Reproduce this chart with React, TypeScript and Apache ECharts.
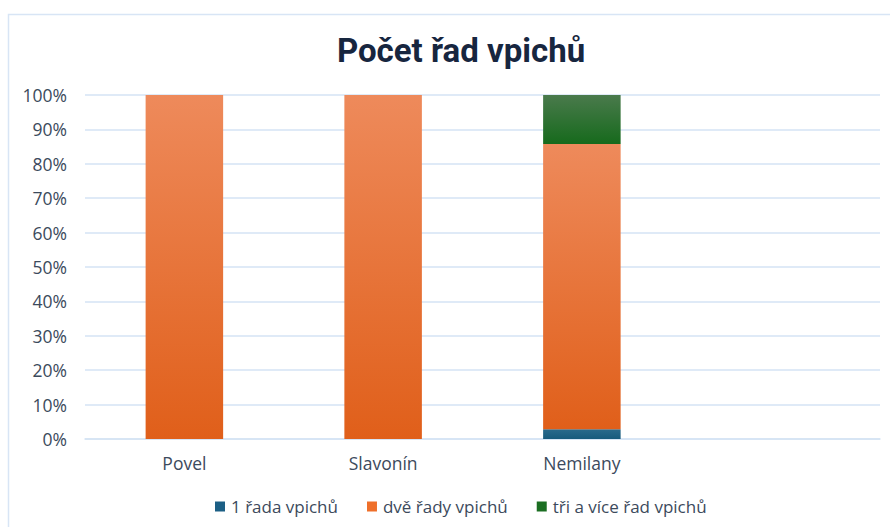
import React, { useEffect, useRef } from "react";
import * as echarts from "echarts";

const categories = ["Povel", "Slavonín", "Nemilany", ""];
const seriesNames = ["1 řada vpichů", "dvě řady vpichů", "tři a více řad vpichů"];
const jednaRada = [0, 0, 2.86, null];
const dveRady = [100, 100, 82.86, null];
const triRady = [0, 0, 14.29, null];
const yTicks = [0, 10, 20, 30, 40, 50, 60, 70, 80, 90, 100];

const grad = (top: string, bottom: string) =>
  new echarts.graphic.LinearGradient(0, 0, 0, 1, [
    { offset: 0, color: top },
    { offset: 1, color: bottom },
  ]);

export default function App() {
  const ref = useRef<HTMLDivElement>(null);
  useEffect(() => {
    if (!ref.current) return;
    const chart = echarts.init(ref.current, undefined, { renderer: "svg" });
    const font = "'Open Sans', 'Noto Sans', sans-serif";
    const mk = (name: string, data: (number | null)[], top: string, bottom: string) => ({
      name,
      type: "bar",
      stack: "total",
      data,
      barWidth: "39%",
      itemStyle: { color: grad(top, bottom) },
      emphasis: { disabled: true },
    });
    chart.setOption({
      animation: false,
      backgroundColor: "#ffffff",
      title: {
        text: "Počet řad vpichů",
        left: 456,
        top: 29,
        textAlign: "center",
        textStyle: { fontFamily: "Roboto, sans-serif", fontWeight: "bold", fontSize: 33, color: "#17263f" },
      },
      graphic: [
        {
          type: "rect",
          shape: { x: 8.5, y: 14.5, width: 900, height: 600 },
          style: { fill: "none", stroke: "#d8e5f5", lineWidth: 1.5 },
          silent: true,
        },
      ],
      grid: { left: 85, right: 10, top: 95, bottom: 88, containLabel: false },
      xAxis: {
        type: "category",
        data: categories,
        axisLine: { show: true, lineStyle: { color: "#d5e3f4", width: 1.5 } },
        axisTick: { show: false },
        axisLabel: { color: "#3c4a5c", fontSize: 17.5, fontFamily: font, margin: 15 },
      },
      yAxis: {
        type: "value",
        min: 0,
        max: 100,
        interval: 10,
        axisLine: { show: false },
        axisTick: { show: false },
        splitLine: { lineStyle: { color: "#d5e3f4", width: 1.5 } },
        axisLabel: {
          color: "#3c4a5c",
          fontSize: 17.5,
          fontFamily: font,
          margin: 18,
          formatter: (v: number) => (yTicks.includes(v) ? v + "%" : ""),
        },
      },
      legend: {
        top: 493,
        left: 210,
        itemWidth: 10,
        itemHeight: 10,
        itemGap: 29,
        icon: "rect",
        textStyle: { color: "#3c4a5c", fontSize: 17, fontFamily: font, padding: [0, 0, 0, 1] },
        data: [
          { name: seriesNames[0], itemStyle: { color: "#1c5f85" } },
          { name: seriesNames[1], itemStyle: { color: "#ef6f2a" } },
          { name: seriesNames[2], itemStyle: { color: "#1b6e22" } },
        ],
      },
      series: [
        mk(seriesNames[0], jednaRada, "#2a6a8c", "#175a7c"),
        mk(seriesNames[1], dveRady, "#ee8a5b", "#e05f1a"),
        mk(seriesNames[2], triRady, "#4a7a4c", "#166a1c"),
      ],
    });
    return () => chart.dispose();
  }, []);
  return (
    <div
      ref={ref}
      style={{ position: "absolute", left: 0, top: 0, width: 890, height: 527 }}
    />
  );
}
